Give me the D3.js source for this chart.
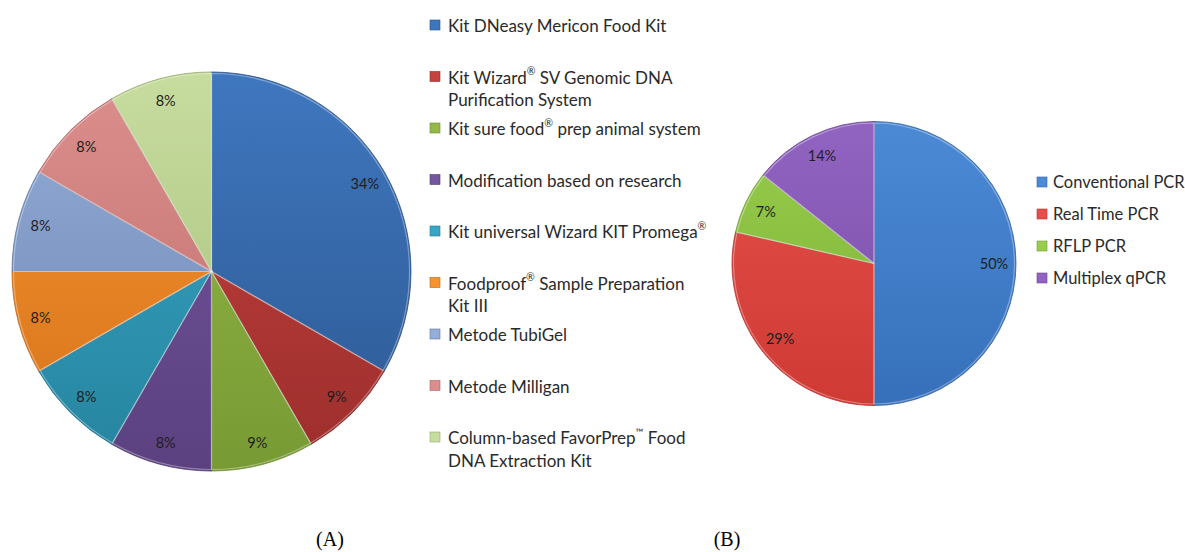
<!DOCTYPE html>
<html>
<head>
<meta charset="utf-8">
<script src="https://cdn.jsdelivr.net/npm/d3@7"></script>
<style>
  html, body { margin: 0; padding: 0; background: #ffffff; }
  svg { display: block; }
</style>
</head>
<body>
<svg id="chart" width="1185" height="552"></svg>
<script>
// ---------- data ----------
const categoriesA = [
  ["Kit DNeasy Mericon Food Kit"],
  ["Kit Wizard\u00AE SV Genomic DNA", "Purification System"],
  ["Kit sure food\u00AE prep animal system"],
  ["Modification based on research"],
  ["Kit universal Wizard KIT Promega\u00AE"],
  ["Foodproof\u00AE Sample Preparation", "Kit III"],
  ["Metode TubiGel"],
  ["Metode Milligan"],
  ["Column-based FavorPrep\u2122 Food", "DNA Extraction Kit"]
];
const countsA = [4, 1, 1, 1, 1, 1, 1, 1, 1];
const labelsA = ["34%", "9%", "9%", "8%", "8%", "8%", "8%", "8%", "8%"];

const categoriesB = ["Conventional PCR", "Real Time PCR", "RFLP PCR", "Multiplex qPCR"];
const countsB = [7, 4, 1, 2];
const labelsB = ["50%", "29%", "7%", "14%"];

const captions = ["(A)", "(B)"];

// ---------- styles ----------
const sansFont = "Lato, 'Open Sans', sans-serif";
const serifFont = "'Liberation Serif', 'DejaVu Serif', serif";
const colorsA = [
  ["#3f77bf", "#2c5891"],
  ["#c5423e", "#9c2e2c"],
  ["#95b948", "#789a34"],
  ["#74569e", "#5b4180"],
  ["#38a7c6", "#26849f"],
  ["#f6932d", "#d6731c"],
  ["#94aed9", "#6c84b0"],
  ["#db8f8d", "#bf6d6b"],
  ["#c7dc9f", "#a6be79"]
];
const colorsB = [
  ["#4c8ad6", "#3670ba"],
  ["#e6504a", "#d03a35"],
  ["#98cc4c", "#7cb135"],
  ["#9264c2", "#774ca5"]
];

const svg = d3.select("#chart");
const defs = svg.append("defs");

defs.append("clipPath").attr("id", "legClip")
  .append("rect").attr("x", 0).attr("y", 0).attr("width", 707).attr("height", 552);

// write text with superscript ® and ™
function richText(sel, str, size) {
  const parts = str.split(/([\u00AE\u2122])/).filter(p => p);
  let pending = 0;
  parts.forEach(p => {
    const sup = (p === "\u00AE" || p === "\u2122");
    const ts = sel.append("tspan").text(p);
    if (sup) {
      ts.style("font-size", (size * 0.62) + "px").attr("dy", -size * 0.3);
      pending = size * 0.3;
    } else {
      ts.style("font-size", size + "px");
      if (pending) { ts.attr("dy", pending); pending = 0; }
    }
  });
}

function drawPie(cfg) {
  const { cx, cy, r, counts, labels, colors, labelR, id } = cfg;
  const pie = d3.pie().sort(null).value(d => d);
  const arcs = pie(counts);
  const arc = d3.arc().innerRadius(0).outerRadius(r);
  const labelArc = d3.arc().innerRadius(labelR).outerRadius(labelR);

  colors.forEach((c, i) => {
    const g = defs.append("linearGradient")
      .attr("id", id + "g" + i)
      .attr("gradientUnits", "userSpaceOnUse")
      .attr("x1", 0).attr("y1", -r).attr("x2", 0).attr("y2", r);
    g.append("stop").attr("offset", "0%").attr("stop-color", c[0]);
    g.append("stop").attr("offset", "100%").attr("stop-color", c[1]);
  });

  const g = svg.append("g").attr("transform", `translate(${cx},${cy})`);
  g.selectAll("path.slice")
    .data(arcs)
    .join("path")
    .attr("class", "slice")
    .attr("d", arc)
    .attr("fill", (d, i) => `url(#${id}g${i})`)
    .attr("stroke", (d, i) => d3.color(colors[i][1]).darker(0.4))
    .attr("stroke-width", 0.8);

  const bevel = d3.arc().innerRadius(0).outerRadius(r - 1.5);
  g.selectAll("path.bevel")
    .data(arcs)
    .join("path")
    .attr("class", "bevel")
    .attr("d", bevel)
    .attr("fill", "none")
    .attr("stroke", "rgba(255,255,255,0.35)")
    .attr("stroke-width", 1.2);

  g.selectAll("text.pct")
    .data(arcs)
    .join("text")
    .attr("class", "pct")
    .attr("transform", d => `translate(${labelArc.centroid(d)})`)
    .attr("text-anchor", "middle")
    .attr("dominant-baseline", "central")
    .style("font-family", sansFont)
    .style("font-size", "14.5px")
    .attr("fill", "#1e1e1e")
    .text((d, i) => labels[i]);
}

drawPie({ id: "a", cx: 211.5, cy: 271.5, r: 199.5, counts: countsA, labels: labelsA, colors: colorsA, labelR: 177 });
drawPie({ id: "b", cx: 874, cy: 263.5, r: 142, counts: countsB, labels: labelsB, colors: colorsB, labelR: 120 });

// ---------- legend A ----------
const fsA = 17;
const yA = d3.scalePoint().domain(d3.range(categoriesA.length)).range([25, 437]);
const legA = svg.append("g").attr("clip-path", "url(#legClip)");
categoriesA.forEach((lines, i) => {
  const y = yA(i);
  legA.append("rect")
    .attr("x", 430).attr("y", y - 5).attr("width", 10).attr("height", 10)
    .attr("fill", colorsA[i][0])
    .attr("stroke", d3.color(colorsA[i][1]).darker(0.3)).attr("stroke-width", 0.6);
  lines.forEach((t, j) => {
    const tx = legA.append("text")
      .attr("x", 448).attr("y", y + j * 22.5)
      .attr("dominant-baseline", "central")
      .style("font-family", sansFont)
      .style("font-size", fsA + "px")
      .attr("fill", "#2a2a2a");
    richText(tx, t, fsA);
  });
});

// ---------- legend B ----------
const fsB = 16.5;
const yB = d3.scalePoint().domain(d3.range(categoriesB.length)).range([182, 278]);
const legB = svg.append("g");
categoriesB.forEach((t, i) => {
  const y = yB(i);
  legB.append("rect")
    .attr("x", 1037).attr("y", y - 5).attr("width", 10).attr("height", 10)
    .attr("fill", colorsB[i][0])
    .attr("stroke", d3.color(colorsB[i][1]).darker(0.3)).attr("stroke-width", 0.6);
  legB.append("text")
    .attr("x", 1053).attr("y", y)
    .attr("dominant-baseline", "central")
    .style("font-family", sansFont)
    .style("font-size", fsB + "px")
    .attr("fill", "#2a2a2a")
    .text(t);
});

// ---------- captions ----------
const capX = [330, 727];
captions.forEach((c, i) => {
  svg.append("text")
    .attr("x", capX[i]).attr("y", 539)
    .attr("text-anchor", "middle")
    .attr("dominant-baseline", "central")
    .style("font-family", serifFont)
    .style("font-size", "20px")
    .attr("fill", "#000")
    .text(c);
});
</script>
</body>
</html>
